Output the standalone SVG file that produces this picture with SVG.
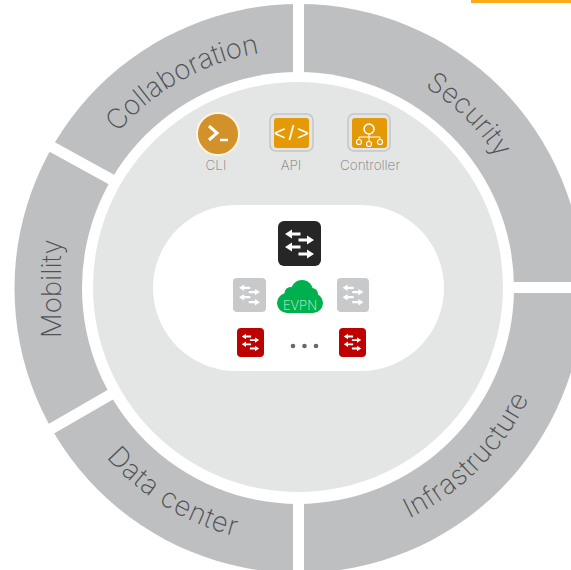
<svg xmlns="http://www.w3.org/2000/svg" width="571" height="570" viewBox="0 0 571 570">
<style>
.seg{font-family:"Inter","Liberation Sans",sans-serif;font-weight:200;font-size:27.500px;fill:#4f5154}
.lab{font-family:"Inter","Liberation Sans",sans-serif;font-weight:200;font-size:13.500px;fill:#77797c;text-anchor:middle}
.gap{stroke:#fff;stroke-width:11;fill:none}
</style>
<defs>
<path id="cw" d="M298 526A238 238 0 1 1 298 50A238 238 0 1 1 298 526"/>
<path id="ccw" d="M42 288A256 256 0 0 0 554 288"/>
<marker id="ah" markerWidth="10" markerHeight="8" refX="9" refY="4" orient="auto" markerUnits="userSpaceOnUse"><path d="M1 0L9 4L1 8Z" fill="#6a6c6f"/></marker>
<g id="sw" fill="#fff">
<path d="M-14.500 -10L-7.500 -14.500V-11.500H1V-8.500H-7.500V-5.500Z"/>
<path d="M14.500 -4L7.500 -8.500V-5.500H-1V-2.500H7.500V0.500Z"/>
<path d="M-14.500 3L-7.500 -1.500V1.500H1V4.500H-7.500V7.500Z"/>
<path d="M14.500 10L7.500 5.500V8.500H-1V11.500H7.500V14.500Z"/>
</g>
</defs>
<rect width="571" height="570" fill="#fff"/>
<rect x="471" y="0" width="100" height="3" fill="#fbab18"/>
<g id="ring">
<circle cx="299" cy="288.500" r="284.500" fill="#bebfc0"/>
<circle cx="298" cy="288" r="216" fill="#fff"/>
</g>
<g id="connectors">
<path class="gap" d="M298.500 0V74M298.500 502V570M512 287.500H571M115 181.500L30 134.700M115 392L30 441"/>
<path d="M297 178V202" stroke="#6a6c6f" stroke-width="1" fill="none" marker-end="url(#ah)"/>
</g>
<circle id="core" cx="298" cy="287" r="205" fill="#e4e6e5"/>
<rect id="fabric" x="153" y="205" width="291" height="166" rx="83" fill="#fff"/>
<g id="collaboration"><text class="seg"><textPath href="#cw" startOffset="543">Collaboration</textPath></text></g>
<g id="security"><text class="seg"><textPath href="#cw" startOffset="881">Security</textPath></text></g>
<g id="mobility"><text class="seg" transform="translate(61 338) rotate(-90)">Mobility</text></g>
<g id="infrastructure"><text class="seg" letter-spacing="0.500"><textPath href="#ccw" startOffset="517">Infrastructure</textPath></text></g>
<g id="data-center"><text class="seg" letter-spacing="0.900"><textPath href="#ccw" startOffset="185">Data center</textPath></text></g>
<g id="cli">
<circle cx="218" cy="134" r="21" fill="#d29129" stroke="#fff6e0" stroke-width="2"/>
<path d="M209 126L217 133L209 140" stroke="#fff" stroke-width="3" fill="none"/>
<path d="M220 140H228" stroke="#fff" stroke-width="2.500"/>
<text class="lab" x="216" y="170">CLI</text>
</g>
<g id="api">
<rect x="270" y="114" width="43" height="37" rx="6" fill="#e4e6e5" stroke="#c4c5c6" stroke-width="1.500"/>
<rect x="274" y="118" width="35" height="30" rx="3" fill="#e39a06"/>
<text x="293" y="140" text-anchor="middle" font-family="Liberation Sans,sans-serif" font-size="20" letter-spacing="3" fill="#fff">&lt;/&gt;</text>
<text class="lab" x="291" y="170">API</text>
</g>
<g id="controller">
<rect x="348" y="114" width="42" height="37" rx="6" fill="#e4e6e5" stroke="#c4c5c6" stroke-width="1.500"/>
<rect x="352" y="118" width="35" height="30" rx="3" fill="#e39a06"/>
<circle cx="369" cy="129" r="5" fill="none" stroke="#fff" stroke-width="1.500"/>
<path d="M369 134V141M359 140V137H380V140" fill="none" stroke="#fff" stroke-width="1"/>
<circle cx="359" cy="142" r="2.500" fill="none" stroke="#fff" stroke-width="1.200"/>
<circle cx="369" cy="144" r="2.500" fill="none" stroke="#fff" stroke-width="1.200"/>
<circle cx="380" cy="142" r="2.500" fill="none" stroke="#fff" stroke-width="1.200"/>
<text class="lab" x="370" y="170">Controller</text>
</g>
<g id="spine"><rect x="278" y="221" width="43" height="45" rx="6" fill="#262626"/><use href="#sw" x="299.500" y="244"/></g>
<g id="leaf-gray-1"><rect x="233" y="278" width="33" height="34" rx="4" fill="#c8c9ca"/><use href="#sw" transform="translate(249.500 295) scale(.72)"/></g>
<g id="leaf-gray-2"><rect x="337" y="278" width="32" height="34" rx="4" fill="#c8c9ca"/><use href="#sw" transform="translate(353 295) scale(.72)"/></g>
<g id="cloud" fill="#00b04f">
<rect x="277" y="293" width="46" height="20" rx="10"/>
<circle cx="302" cy="291" r="11"/><circle cx="290.500" cy="293" r="6"/><circle cx="312" cy="294" r="6"/>
<text x="300" y="310" text-anchor="middle" font-family="Inter,Liberation Sans,sans-serif" font-weight="200" font-size="13" fill="#d3f3dd">EVPN</text></g>
<g id="leaf-red-1"><rect x="237" y="328" width="27" height="29" rx="4" fill="#bd0000"/><use href="#sw" transform="translate(250.500 342.500) scale(.6)"/></g>
<g id="leaf-red-2"><rect x="339" y="328" width="27" height="29" rx="4" fill="#bd0000"/><use href="#sw" transform="translate(352.500 342.500) scale(.6)"/></g>
<g id="dots" fill="#66686b"><circle cx="293" cy="346" r="2.300"/><circle cx="304.500" cy="346" r="2.300"/><circle cx="316" cy="346" r="2.300"/></g>
</svg>
